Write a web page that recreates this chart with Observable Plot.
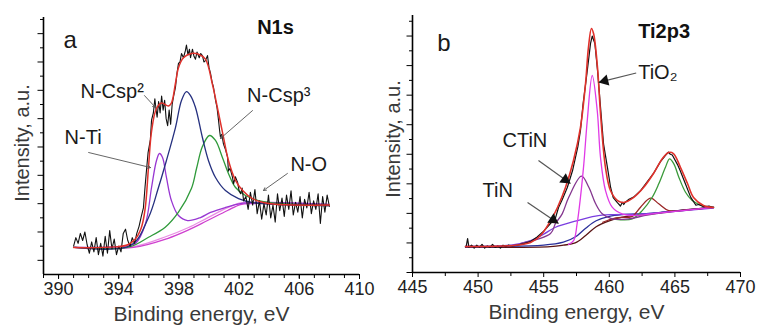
<!DOCTYPE html>
<html><head><meta charset="utf-8">
<script src="https://cdn.jsdelivr.net/npm/d3@7"></script>
<script src="https://cdn.jsdelivr.net/npm/@observablehq/plot@0.6"></script>
<style>
body{margin:0;background:#fff;}
#wrap{display:flex;width:761px;height:329px;overflow:hidden;background:#fff;}
</style></head><body><div id="wrap"></div>
<script>
// ---------- Panel a : N1s ----------
const xTicksA = [390, 394, 398, 402, 406, 410];
const yMajorA = [1, 3, 5, 7, 9, 11, 13, 15, 17];
const yMinorA = [2, 4, 6, 8, 10, 12, 14, 16, 18];

const expA = [[391.0,2.0],[391.15,2.6],[391.3,2.2],[391.45,2.9],[391.6,2.4],[391.75,3.0],[391.9,2.1],[392.05,1.5],[392.2,2.3],[392.35,1.6],[392.5,2.6],[392.65,1.4],[392.8,2.2],[392.95,1.3],[393.1,2.7],[393.25,1.5],[393.4,3.1],[393.55,1.8],[393.7,2.5],[393.85,1.4],[394.0,2.0],[394.15,1.6],[394.3,2.9],[394.45,3.2],[394.6,2.4],[394.75,2.0],[394.9,2.6],[395.05,2.2],[395.2,2.9],[395.35,3.4],[395.5,4.1],[395.64,4.7],[395.75,6.2],[395.84,7.3],[395.95,8.6],[396.1,9.5],[396.18,10.9],[396.3,11.4],[396.4,12.4],[396.45,11.9],[396.55,11.1],[396.65,12.2],[396.75,11.4],[396.85,12.6],[396.95,11.6],[397.05,12.3],[397.15,11.0],[397.25,10.5],[397.35,11.6],[397.45,10.6],[397.55,12.0],[397.65,12.6],[397.77,13.2],[397.87,14.2],[397.97,14.9],[398.07,15.0],[398.17,15.6],[398.3,15.3],[398.43,15.8],[398.5,16.2],[398.6,15.5],[398.7,15.9],[398.77,15.3],[398.9,15.9],[399.0,15.4],[399.1,15.2],[399.2,15.7],[399.35,15.3],[399.45,15.6],[399.56,15.45],[399.66,15.0],[399.76,15.1],[399.9,15.45],[400.0,14.6],[400.1,14.2],[400.2,13.6],[400.3,13.2],[400.43,12.3],[400.53,11.8],[400.63,10.9],[400.7,10.2],[400.76,9.7],[400.85,9.9],[400.96,9.2],[401.1,8.8],[401.23,8.3],[401.29,7.3],[401.4,7.5],[401.56,6.85],[401.63,6.4],[401.75,6.9],[401.9,6.5],[402.0,5.9],[402.1,5.7],[402.2,6.1],[402.3,5.2],[402.45,5.5],[402.6,4.6],[402.75,5.8],[402.9,4.9],[403.05,6.0],[403.2,4.3],[403.35,5.2],[403.5,3.9],[403.65,5.0],[403.8,4.2],[403.95,5.6],[404.1,4.0],[404.25,4.9],[404.4,3.7],[404.55,5.7],[404.7,4.5],[404.85,5.4],[405.0,4.1],[405.15,5.6],[405.3,4.6],[405.45,5.9],[405.6,4.2],[405.75,5.1],[405.9,4.4],[406.05,5.5],[406.2,4.0],[406.35,5.3],[406.5,4.7],[406.65,5.8],[406.8,4.3],[406.95,5.2],[407.1,4.6],[407.25,5.7],[407.4,3.6],[407.55,5.5],[407.7,4.4],[407.85,5.6],[408.0,4.8]];
const envA = [[391.0,1.9],[393.8,1.95],[394.6,2.1],[395.1,2.5],[395.5,3.3],[395.75,4.6],[395.98,7.6],[396.18,10.1],[396.5,11.7],[396.85,12.1],[397.3,11.9],[397.5,12.1],[397.77,13.5],[397.97,14.6],[398.3,15.3],[398.83,15.6],[399.3,15.55],[399.76,15.2],[400.23,13.4],[400.63,11.4],[400.96,9.7],[401.29,8.05],[401.76,6.65],[402.22,5.95],[402.89,5.35],[403.55,5.1],[404.42,4.95],[408.0,4.9]];
const csp2A = [[391.06,1.91],[394.78,2.05],[395.98,4.02],[396.64,6.14],[397.17,8.05],[397.77,10.37],[398.17,12.28],[398.5,12.91],[398.77,12.63],[399.1,11.79],[399.56,9.67],[399.96,8.05],[400.43,6.85],[401.09,5.93],[401.96,5.36],[402.89,5.08],[404.61,4.94],[407.94,4.87]];
const csp3A = [[391.06,1.91],[394.65,1.93],[395.98,2.63],[397.09,3.34],[397.97,4.4],[398.83,6.07],[399.17,7.48],[399.56,9.03],[400.03,9.81],[400.43,9.46],[400.89,8.26],[401.29,7.13],[401.76,6.14],[402.42,5.58],[403.29,5.22],[404.61,5.01],[407.94,4.87]];
const ntiA = [[391.06,1.91],[394.12,1.98],[395.11,2.19],[395.78,3.6],[396.18,6.14],[396.51,8.05],[396.71,8.54],[396.91,8.26],[397.17,6.85],[397.5,5.22],[397.97,4.16],[398.57,3.81],[399.43,4.02],[400.1,4.38],[401.09,4.73],[402.09,5.01],[403.42,5.08],[407.94,4.94]];
const bgA = [[391.06,1.91],[394.98,1.91],[397.24,2.54],[398.57,3.11],[399.9,3.81],[401.23,4.52],[402.09,4.94],[402.95,5.01],[407.94,4.87]];
const bgA2 = [[391.06,1.91],[394.9,1.95],[397.2,2.7],[398.6,3.3],[399.9,4.0],[401.2,4.7],[402.1,5.05],[403.0,5.1],[407.94,4.95]];
const labelsA = [
  {t: "N-Ti", x: 390.4, y: 9.24},
  {t: "N-Csp\u00B2", x: 391.46, y: 12.49},
  {t: "N-Csp\u00B3", x: 402.53, y: 12.16},
  {t: "N-O", x: 405.41, y: 7.34}
];
const leadersA = [
  {x1: 395.71, y1: 12.63, x2: 396.44, y2: 11.79},
  {x1: 392.0, y1: 8.61, x2: 396.11, y2: 7.55},
  {x1: 402.89, y1: 11.57, x2: 400.76, y2: 9.6},
  {x1: 405.21, y1: 7.13, x2: 403.62, y2: 5.93}
];

// ---------- Panel b : Ti2p3 ----------
const xTicksB = [445, 450, 455, 460, 465, 470];
const xMinorB = [447.5, 452.5, 457.5, 462.5, 467.5];
const yMajorB = [0, 2, 4, 6, 8, 10, 12, 14, 16];
const yMinorB = [1, 3, 5, 7, 9, 11, 13, 15, 17];

const expB = [[449.1,1.8],[449.2,2.3],[449.3,1.7],[449.5,1.85],[449.7,1.65],[449.9,1.85],[450.1,1.7],[450.3,1.9],[450.5,1.65],[450.7,1.8],[450.9,1.7],[451.1,1.9],[451.3,1.7],[451.5,1.8],[451.7,1.65],[451.9,1.85],[452.1,1.75],[452.3,1.85],[452.6,1.8],[453.0,1.85],[453.5,1.95],[454.0,2.1],[454.5,2.4],[455.0,2.8],[455.5,3.3],[455.9,3.7],[456.13,4.4],[456.4,4.9],[456.8,5.75],[457.2,6.9],[457.6,8.5],[457.8,9.6],[458.0,11.4],[458.3,13.5],[458.57,15.5],[458.7,16.0],[458.9,15.5],[459.1,13.7],[459.33,11.2],[459.56,8.7],[459.86,7.1],[460.1,5.75],[460.3,5.07],[460.6,4.74],[460.85,4.5],[461.0,4.75],[461.1,4.6],[461.2,4.74],[461.5,4.95],[461.85,5.1],[462.4,5.55],[462.9,6.15],[463.4,6.75],[463.9,7.5],[464.3,7.95],[464.5,8.15],[464.65,8.0],[464.8,7.95],[465.2,7.3],[465.4,6.9],[465.8,6.0],[466.2,5.1],[466.6,4.55],[466.8,4.6],[467.2,4.45],[467.6,4.5],[467.9,4.4]];
const envB = [[449.04,1.76],[452.7,1.83],[454.0,2.03],[454.76,2.5],[455.52,3.5],[456.05,4.4],[456.66,5.75],[457.27,7.58],[457.8,9.81],[458.19,12.79],[458.41,15.22],[458.64,16.51],[458.8,16.17],[459.1,13.87],[459.33,10.76],[459.71,7.1],[460.09,5.55],[460.63,4.87],[461.08,4.74],[461.84,5.07],[462.61,5.75],[463.37,6.7],[464.05,7.71],[464.51,8.12],[464.89,8.05],[465.43,7.1],[465.96,6.02],[466.42,5.07],[467.18,4.53],[467.94,4.4]];
const tio2B = [[456.9,1.9],[457.29,2.17],[457.55,3.32],[457.8,5.07],[458.06,7.37],[458.32,10.28],[458.7,13.33],[459.08,10.96],[459.33,7.78],[459.71,5.55],[460.22,4.42],[460.98,3.97],[462.0,3.86],[463.5,4.0],[467.94,4.4]];
const ctinB = [[453.23,1.96],[455.52,2.64],[455.9,3.32],[456.41,3.97],[456.91,5.09],[457.88,6.52],[458.44,5.77],[458.95,4.67],[459.46,3.97],[460.22,3.63],[461.46,3.63],[463.0,3.9],[467.94,4.4]];
const tinB = [[449.04,1.76],[452.5,1.85],[454.0,2.15],[455.0,2.6],[455.9,3.06],[457.4,3.47],[458.95,3.82],[460.2,3.92],[462.2,3.95],[464.8,4.12],[467.94,4.35]];
const navyB = [[449.04,1.76],[455.0,1.85],[456.5,2.05],[457.4,2.4],[458.2,3.0],[459.0,3.5],[460.0,3.8],[461.0,3.92],[463.0,4.0],[465.4,4.2],[467.94,4.4]];
const baseB = [[449.04,1.7],[455.5,1.75],[456.5,1.85],[457.4,2.0],[458.2,2.5],[459.0,3.1],[460.0,3.5],[461.0,3.75],[463.0,3.95],[465.4,4.2],[467.94,4.4]];
const peak463B = [[459.5,3.4],[460.5,3.7],[461.75,3.8],[462.38,4.42],[463.14,5.03],[463.77,4.65],[464.53,4.19],[466.0,4.25],[467.94,4.4]];
const peak465B = [[460.5,3.6],[461.75,3.63],[462.51,4.19],[463.27,5.09],[463.77,6.0],[464.28,7.12],[464.59,7.69],[464.92,7.35],[465.3,6.45],[465.81,5.43],[466.32,4.87],[467.08,4.53],[467.96,4.42]];
const labelsB = [
  {t: "TiO\u2082", x: 462.2, y: 13.1},
  {t: "CTiN", x: 451.86, y: 8.46},
  {t: "TiN", x: 450.34, y: 5.14}
];
const arrowsB = [
  {x1: 462.05, y1: 13.5, x2: 459.18, y2: 12.86},
  {x1: 454.6, y1: 7.58, x2: 457.04, y2: 6.02},
  {x1: 453.77, y1: 4.74, x2: 456.13, y2: 3.32}
];

const FONT = "'Liberation Sans', Arial, Helvetica, sans-serif";
const X = d => d[0], Y = d => d[1];

function frameMarks(p) {
  return [
    Plot.axisX(p.xMinor, {tickSize: 4, tickFormat: () => "", label: null}),
    Plot.axisX(p.xTicks, {tickSize: 5, tickPadding: 3, fontSize: 18, fill: "#222", label: null, tickFormat: d => String(d)}),
    Plot.axisY(p.yMinor, {tickSize: 3, tickFormat: () => "", label: null}),
    Plot.axisY(p.yMajor, {tickSize: 5.5, tickFormat: () => "", label: null}),
    Plot.ruleX([p.xDomain[0]], {stroke: "#000", strokeWidth: 1.6}),
    Plot.ruleY([p.yDomain[0]], {stroke: "#000", strokeWidth: 1.6}),
    Plot.text(["Binding energy, eV"], {frameAnchor: "bottom", text: d => d, textAnchor: "middle", lineAnchor: "bottom", dy: 46, fontSize: 21, fill: "#3a3a3a"}),
    Plot.text(["Intensity, a.u."], {frameAnchor: "left", text: d => d, textAnchor: "middle", lineAnchor: "middle", rotate: -90, dx: p.yTitleDx, dy: p.yTitleDy, fontSize: 20, fill: "#3a3a3a"})
  ];
}

function makePlot(p, marks) {
  return Plot.plot({
    width: p.width, height: 329,
    marginLeft: p.ml, marginRight: p.mr, marginTop: p.mt, marginBottom: p.mb,
    x: {domain: p.xDomain, label: null, axis: null},
    y: {domain: p.yDomain, label: null, axis: null},
    style: {fontFamily: FONT, background: "#fff", color: "#000", overflow: "visible"},
    marks: [...marks, ...frameMarks(p)]
  });
}

const pA = {width: 380, ml: 43, mr: 21, mt: 17, mb: 55, xDomain: [389, 410], yDomain: [0, 18.14],
  xTicks: xTicksA, xMinor: d3.range(389, 411, 1), yMajor: yMajorA, yMinor: yMinorA, yTitleDx: -21, yTitleDy: -3};
const pB = {width: 381, ml: 32, mr: 21, mt: 15, mb: 57, xDomain: [445, 470], yDomain: [0, 17.39],
  xTicks: xTicksB, xMinor: xMinorB, yMajor: yMajorB, yMinor: yMinorB, yTitleDx: -19, yTitleDy: -5};

const cr = "catmull-rom";
const plotA = makePlot(pA, [
  Plot.line(bgA2, {x: X, y: Y, stroke: "#e98de4", strokeWidth: 1.3, curve: cr}),
  Plot.line(bgA, {x: X, y: Y, stroke: "#cf3fcf", strokeWidth: 1.3, curve: cr}),
  Plot.line(ntiA, {x: X, y: Y, stroke: "#9836d2", strokeWidth: 1.3, curve: cr}),
  Plot.line(csp3A, {x: X, y: Y, stroke: "#2f9a3a", strokeWidth: 1.3, curve: cr}),
  Plot.line(csp2A, {x: X, y: Y, stroke: "#25307f", strokeWidth: 1.3, curve: cr}),
  Plot.line(expA, {x: X, y: Y, stroke: "#111", strokeWidth: 1.1}),
  Plot.line(envA, {x: X, y: Y, stroke: "#e0312b", strokeWidth: 1.5, curve: cr}),
  Plot.arrow(leadersA, {x1: "x1", y1: "y1", x2: "x2", y2: "y2", stroke: "#555", strokeWidth: 0.9, headLength: 5}),
  Plot.text(labelsA, {x: "x", y: "y", text: "t", textAnchor: "start", lineAnchor: "bottom", fontSize: 20, fill: "#1a1a1a"}),
  Plot.text(["a"], {x: [390.33], y: [16.02], text: d => d, textAnchor: "start", lineAnchor: "bottom", fontSize: 24, fill: "#1a1a1a"}),
  Plot.text(["N1s"], {x: [403.2], y: [17.0], text: d => d, textAnchor: "start", lineAnchor: "bottom", fontSize: 20, fontWeight: "bold", fill: "#111"})
]);

// arrow-head geometry for panel b (filled triangles)
const sxB = Plot.scale({x: {domain: pB.xDomain, range: [pB.ml, pB.width - pB.mr]}});
const syB = Plot.scale({y: {domain: pB.yDomain, range: [329 - pB.mb, pB.mt]}});
const headsB = arrowsB.map(a => {
  const px1 = sxB.apply(a.x1), py1 = syB.apply(a.y1), px2 = sxB.apply(a.x2), py2 = syB.apply(a.y2);
  const L = Math.hypot(px2 - px1, py2 - py1), ux = (px2 - px1) / L, uy = (py2 - py1) / L;
  const back = 6.5;
  return {x: sxB.invert(px2 - ux * back), y: syB.invert(py2 - uy * back), a: Math.atan2(ux, -uy) * 180 / Math.PI};
});

const plotB = makePlot(pB, [
  Plot.line(baseB, {x: X, y: Y, stroke: "#5a1515", strokeWidth: 1.3, curve: cr}),
  Plot.line(navyB, {x: X, y: Y, stroke: "#2a2f9a", strokeWidth: 1.3, curve: cr}),
  Plot.line(tinB, {x: X, y: Y, stroke: "#7a3ee0", strokeWidth: 1.3, curve: cr}),
  Plot.line(peak463B, {x: X, y: Y, stroke: "#9a2626", strokeWidth: 1.3, curve: cr}),
  Plot.line(peak465B, {x: X, y: Y, stroke: "#3a9a3a", strokeWidth: 1.3, curve: cr}),
  Plot.line(ctinB, {x: X, y: Y, stroke: "#84368f", strokeWidth: 1.3, curve: cr}),
  Plot.line(tio2B, {x: X, y: Y, stroke: "#e03ae6", strokeWidth: 1.3, curve: cr}),
  Plot.line(expB, {x: X, y: Y, stroke: "#111", strokeWidth: 1.2}),
  Plot.line(envB, {x: X, y: Y, stroke: "#e0312b", strokeWidth: 1.6, curve: cr}),
  Plot.link(arrowsB, {x1: "x1", y1: "y1", x2: "x2", y2: "y2", stroke: "#555", strokeWidth: 1.2}),
  Plot.dot(headsB, {x: "x", y: "y", rotate: "a", symbol: "triangle", r: 4.2, fill: "#111", stroke: "none"}),
  Plot.text(labelsB, {x: "x", y: "y", text: "t", textAnchor: "start", lineAnchor: "bottom", fontSize: 20, fill: "#1a1a1a"}),
  Plot.text(["b"], {x: [446.88], y: [15.02], text: d => d, textAnchor: "start", lineAnchor: "bottom", fontSize: 24, fill: "#1a1a1a"}),
  Plot.text(["Ti2p3"], {x: [462.2], y: [15.9], text: d => d, textAnchor: "start", lineAnchor: "bottom", fontSize: 20, fontWeight: "bold", fill: "#111"})
]);

const wrap = document.getElementById("wrap");
wrap.appendChild(plotA);
wrap.appendChild(plotB);
</script>
</body></html>
